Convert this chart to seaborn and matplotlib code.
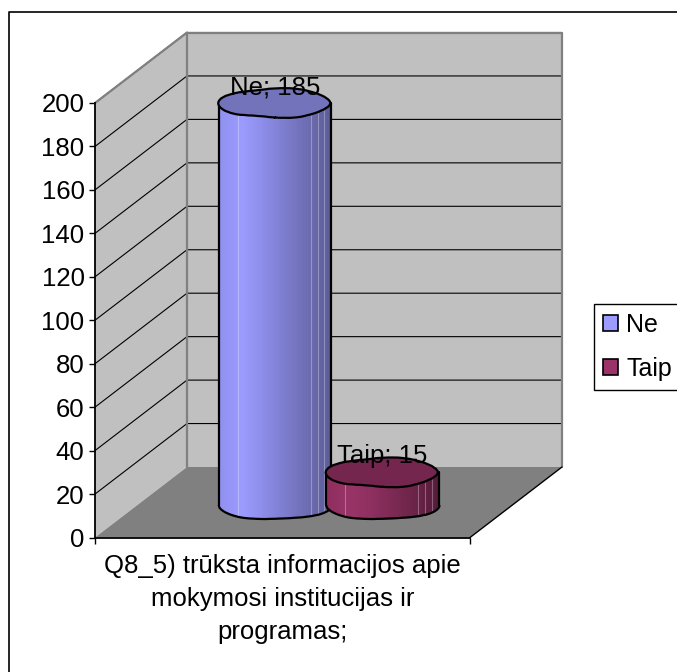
import numpy as np
import pandas as pd
import matplotlib
matplotlib.use("Agg")
import matplotlib.pyplot as plt
import seaborn as sns
from matplotlib.patches import Ellipse, Polygon, Rectangle, PathPatch
from matplotlib.path import Path
from matplotlib.lines import Line2D
from matplotlib.colors import LinearSegmentedColormap

# values
answers = ["Ne", "Taip"]
counts = [185, 15]
y_ticks = [0, 20, 40, 60, 80, 100, 120, 140, 160, 180, 200]
category_label = "Q8_5) trūksta informacijos apie\nmokymosi institucijas ir\nprogramas;"

W, H = 677, 672


def px_box(x0, y_top, x1, y_bottom):
    # pixel box (top-left origin) to figure fractions
    return [x0 / W, 1 - y_bottom / H, (x1 - x0) / W, (y_bottom - y_top) / H]


sns.set_style("white")
plt.rcParams['font.family'] = ['Liberation Sans', 'DejaVu Sans']

fig = plt.figure(figsize=(W / 100, H / 100), dpi=100)
fig.patch.set_facecolor("white")
# only the top and left edges of the chart frame are inside the picture
fig.add_artist(Line2D([8.5 / W, 8.5 / W, 1], [0, 1 - 12 / H, 1 - 12 / H], transform=fig.transFigure,
                      color="black", linewidth=1.2))

# front plane of the 3D box holds the value axis
ax = fig.add_axes(px_box(95, 103, 470, 537.5))
ax.patch.set_alpha(0)
ax.set_xlim(0, 1)
ax.set_ylim(0, 200)
dx = 92 / 375
dy = 70.5 / 434.5 * 200

ax.add_patch(Polygon([(dx, dy), (1 + dx, dy), (1 + dx, 200 + dy), (dx, 200 + dy)],
                     facecolor="#C0C0C0", edgecolor="none", clip_on=False, zorder=0))
ax.add_patch(Polygon([(0, 0), (dx, dy), (dx, 200 + dy), (0, 200)],
                     facecolor="#C0C0C0", edgecolor="none", clip_on=False, zorder=0))
ax.add_patch(Polygon([(0, 0), (1, 0), (1 + dx, dy), (dx, dy)],
                     facecolor="#808080", edgecolor="none", clip_on=False, zorder=1))

for v in y_ticks[1:]:
    ax.plot([0, dx, 1 + dx], [v, v + dy, v + dy], color="black", lw=0.8, clip_on=False, zorder=2)
ax.plot([0, dx, dx, dx], [200, 200 + dy, 200 + dy, dy], color="#808080", lw=1.6, clip_on=False, zorder=3)
ax.plot([dx, 1 + dx, 1 + dx], [200 + dy, 200 + dy, dy], color="#808080", lw=1.6, clip_on=False, zorder=3)
ax.plot([1, 1 + dx], [0, dy], color="black", lw=1.0, clip_on=False, zorder=3)

for side in ["top", "right"]:
    ax.spines[side].set_visible(False)
for side in ["left", "bottom"]:
    ax.spines[side].set_color("black")
    ax.spines[side].set_linewidth(1.3)
    ax.spines[side].set_zorder(4)
ax.set_yticks(y_ticks)
ax.set_xticks([0, 1])
ax.set_xticklabels([])
ax.tick_params(axis="both", length=4.5, width=1.0, color="black", left=True, bottom=True)
ax.tick_params(axis="y", labelsize=18.5, labelcolor="black", pad=3)
ax.text(0.5, -7.5, category_label, ha="center", va="top", fontsize=18.5, color="black",
        linespacing=1.49, clip_on=False)

# cylinders sit on a plane halfway into the box
bars_ax = fig.add_axes(px_box(137, 70.5, 512, 505))
bars_ax.patch.set_alpha(0)
df = pd.DataFrame({"answer": answers, "count": counts})
sns.barplot(data=df, x="answer", y="count", ax=bars_ax, width=1.045, color="white", saturation=1)
bars_ax.axis("off")

side_colors = {
    "Ne": ["#9090F0", "#9C9CFF", "#8C8CE8", "#7C7CCC", "#6C6CB0", "#5C5C98"],
    "Taip": ["#8E2E5E", "#9A3468", "#8E3060", "#7C2A54", "#6A2447", "#561C3A"],
}
cap_colors = {"Ne": "#7373BB", "Taip": "#74264E"}
cap_h = 29 / 434.5 * 200
streaks = [0.17, 0.82, 0.88, 0.94]
wobble = dict(scale=0.9, length=90, randomness=3)

t = np.linspace(np.pi, 2 * np.pi, 60)
for i, bar in enumerate(bars_ax.patches[:len(answers)]):
    name = answers[i]
    x0, w, top = bar.get_x(), bar.get_width(), bar.get_height()
    bar.set_visible(False)
    cx = x0 + w / 2
    z = 5 + 2 * i
    lower = np.column_stack([cx + w / 2 * np.cos(t), cap_h / 2 * np.sin(t)])
    body = np.vstack([[x0, top], lower, [x0 + w, top], [x0, top]])
    clip = PathPatch(Path(body), transform=bars_ax.transData, facecolor="none", edgecolor="none")
    bars_ax.add_patch(clip)
    cmap = LinearSegmentedColormap.from_list(name, side_colors[name])
    im = bars_ax.imshow(np.linspace(0, 1, 128)[None, :], cmap=cmap, aspect="auto",
                        extent=[x0, x0 + w, -cap_h, top], zorder=z)
    im.set_clip_path(clip)
    im.set_clip_box(fig.bbox)
    for s in streaks:
        ln, = bars_ax.plot([x0 + s * w] * 2, [-cap_h / 2 * 0.9, top], color="white", alpha=0.3, lw=0.8, zorder=z)
        ln.set_clip_path(clip)
        ln.set_clip_box(fig.bbox)
    # straight sides, slightly uneven bottom edge and cap
    bars_ax.plot([x0, x0], [0, top], color="black", lw=1.6, zorder=z + 1, clip_on=False)
    bars_ax.plot([x0 + w, x0 + w], [0, top], color="black", lw=1.6, zorder=z + 1, clip_on=False)
    arc = Polygon(lower, closed=False, fill=False, edgecolor="black", lw=1.6, zorder=z + 1, clip_on=False)
    arc.set_sketch_params(**wobble)
    bars_ax.add_patch(arc)
    cap = Ellipse((cx, top), w, cap_h, facecolor=cap_colors[name], edgecolor="black", lw=1.6, zorder=z + 1, clip_on=False)
    cap.set_sketch_params(**wobble)
    bars_ax.add_patch(cap)
    bars_ax.annotate(f"{name}; {counts[i]}", (cx, top), xytext=(0, 11.5), textcoords="offset points",
                     ha="center", va="center", fontsize=18.5, color="black", zorder=20, annotation_clip=False)
bars_ax.set_xlim((137 - 275) / 107.5, (512 - 275) / 107.5)
bars_ax.set_ylim(0, 200)

handles = [Rectangle((0, 0), 1, 1, facecolor=side_colors[n][1], edgecolor="black", lw=1.2) for n in answers]
leg = fig.legend(handles, answers, loc="upper left", bbox_to_anchor=(594 / W, 1 - 304 / H),
                 fontsize=18, frameon=True, fancybox=False, edgecolor="black", framealpha=1,
                 handlelength=0.58, handleheight=0.58, handletextpad=0.36, labelspacing=0.8,
                 borderaxespad=0, borderpad=0.36, labelcolor="black")
leg.get_frame().set_linewidth(1.0)

fig.savefig("out.png", dpi=100)
plt.close(fig)
